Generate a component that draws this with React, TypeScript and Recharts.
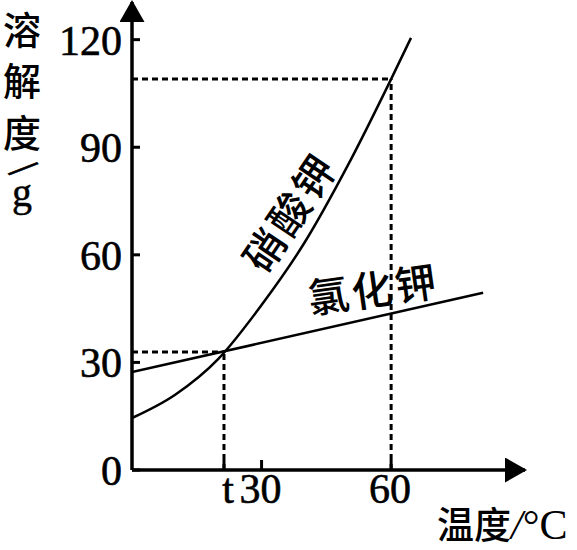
import React from 'react';
import { LineChart, Line, XAxis, YAxis, ReferenceLine } from 'recharts';

// Temperatures (°C) and solubilities (g)
const kno3Temps = [0, 10, 20, 30, 40, 50, 60, 64.6];
const kno3Values = [14.5, 21, 31, 46, 63.5, 85, 109, 120.5];
const kclTemps = [0, 81.3];
const kclValues = [27.3, 49.4];

const yTicks = [0, 30, 60, 90, 120];
const tTemp = 21.3; // crossing temperature "t"
const tValue = 32.9; // solubility at the crossing
const xTicks = [tTemp, 30, 60];
const markTemp = 60;
const markValue = 109;

const yLabelChars = ['溶', '解', '度'];
const kno3Name = '硝酸钾';
const kclName = '氯化钾';

const kno3Data = kno3Temps.map((t, i) => ({ t, v: kno3Values[i] }));
const kclData = kclTemps.map((t, i) => ({ t, v: kclValues[i] }));

const SERIF = '"Liberation Serif", "Times New Roman", serif';
const CJK = '"Noto Sans CJK SC", sans-serif';

const XTick = (props: any) => {
  const { x, y, payload } = props;
  const isT = payload.value === tTemp;
  return (
    <text
      x={x + (isT ? 4 : -1)}
      y={y}
      dy="0.71em"
      textAnchor="middle"
      fontFamily={SERIF}
      fontSize={42}
      fill="#000"
      stroke="#000"
      strokeWidth={0.6}
    >
      {isT ? 't' : String(payload.value)}
    </text>
  );
};

const dash = { stroke: '#000', strokeWidth: 3, strokeDasharray: '6 4' };

export default function App() {
  return (
    <div style={{ position: 'absolute', left: 0, top: 0, width: 577, height: 550, background: '#fff', overflow: 'hidden' }}>
      <svg width={0} height={0} style={{ position: 'absolute' }}>
        <defs>
          <marker
            id="axisArrow"
            markerUnits="userSpaceOnUse"
            markerWidth={22}
            markerHeight={25}
            viewBox="0 0 22 25"
            refX={20}
            refY={12.5}
            orient="auto-start-reverse"
          >
            <path d="M0,0 L22,12.5 L0,25 Z" fill="#000" />
          </marker>
        </defs>
      </svg>
      <LineChart
        width={577}
        height={550}
        margin={{ top: 2, right: 52, left: 32, bottom: 20 }}
      >
        <XAxis
          type="number"
          dataKey="t"
          domain={[0, 91]}
          allowDataOverflow
          ticks={xTicks}
          interval={0}
          height={60}
          tickSize={-10}
          tickMargin={13}
          axisLine={{ stroke: '#000', strokeWidth: 3.5, markerEnd: 'url(#axisArrow)' }}
          tickLine={{ stroke: '#000', strokeWidth: 3 }}
          tick={<XTick />}
        />
        <YAxis
          type="number"
          dataKey="v"
          domain={[0, 130.5]}
          allowDataOverflow
          ticks={yTicks}
          interval={0}
          width={100}
          tickSize={-8}
          tickMargin={18}
          axisLine={{ stroke: '#000', strokeWidth: 3.5, markerStart: 'url(#axisArrow)' }}
          tickLine={{ stroke: '#000', strokeWidth: 3 }}
          tick={{ fontFamily: SERIF, fontSize: 42, fill: '#000', stroke: '#000', strokeWidth: 0.6 }}
        />
        <ReferenceLine
          segment={[{ x: 0, y: markValue }, { x: markTemp, y: markValue }]}
          ifOverflow="visible"
          {...dash}
        />
        <ReferenceLine
          segment={[{ x: markTemp, y: 0 }, { x: markTemp, y: markValue }]}
          ifOverflow="visible"
          {...dash}
        />
        <ReferenceLine
          segment={[{ x: 0, y: tValue }, { x: tTemp, y: tValue }]}
          ifOverflow="visible"
          {...dash}
        />
        <ReferenceLine
          segment={[{ x: tTemp, y: 0 }, { x: tTemp, y: tValue }]}
          ifOverflow="visible"
          {...dash}
        />
        <Line
          data={kno3Data}
          dataKey="v"
          type="monotone"
          stroke="#000"
          strokeWidth={2.5}
          dot={false}
          activeDot={false}
          isAnimationActive={false}
        />
        <Line
          data={kclData}
          dataKey="v"
          type="linear"
          stroke="#000"
          strokeWidth={2.5}
          dot={false}
          activeDot={false}
          isAnimationActive={false}
        />
      </LineChart>
      <svg
        width={577}
        height={550}
        style={{ position: 'absolute', left: 0, top: 0, pointerEvents: 'none' }}
      >
        {yLabelChars.map((c, i) => (
          <text
            key={c}
            x={22}
            y={[44, 95, 147][i]}
            textAnchor="middle"
            fontFamily={CJK}
            fontSize={38}
            fontWeight={500}
            fill="#000"
          >
            {c}
          </text>
        ))}
        <text
          x={23}
          y={183}
          textAnchor="middle"
          fontFamily={SERIF}
          fontSize={44}
          fill="#000"
          stroke="#000"
          strokeWidth={0.6}
          transform="rotate(50 23 169)"
        >
          /
        </text>
        <text x={22} y={206} textAnchor="middle" fontFamily={SERIF} fontSize={40} fill="#000" stroke="#000" strokeWidth={0.5}>
          g
        </text>
        <text
          x={288}
          y={211}
          textAnchor="middle"
          dominantBaseline="central"
          fontFamily={CJK}
          fontSize={41}
          fontWeight={500}
          letterSpacing={3}
          fill="#000"
          transform="rotate(-56 288 211)"
        >
          {kno3Name}
        </text>
        <text
          x={373}
          y={287}
          textAnchor="middle"
          dominantBaseline="central"
          fontFamily={CJK}
          fontSize={41}
          fontWeight={500}
          letterSpacing={3}
          fill="#000"
          transform="rotate(-8 373 287)"
        >
          {kclName}
        </text>
        <text x={437} y={539} fontFamily={CJK} fontSize={37} fontWeight={500} fill="#000">
          温度
          <tspan fontFamily={SERIF} fontSize={42} fontStyle="italic">/</tspan>
          <tspan fontFamily={SERIF} fontSize={42}>°C</tspan>
        </text>
      </svg>
    </div>
  );
}
